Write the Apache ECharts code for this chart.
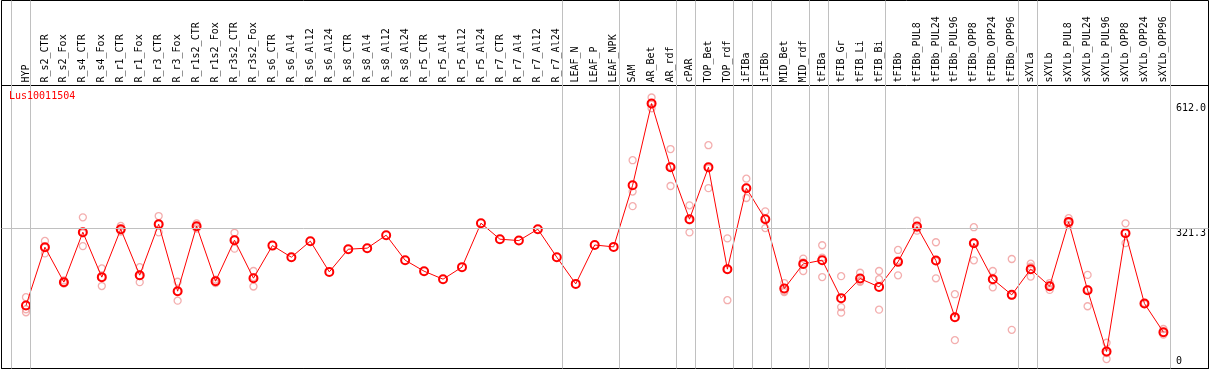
<!DOCTYPE html>
<html><head><meta charset="utf-8">
<script src="https://cdn.jsdelivr.net/npm/echarts@6/dist/echarts.min.js"></script>
<style>html,body{margin:0;padding:0;background:#fff}#c{width:1209px;height:370px}</style>
</head><body><div id="c"></div><script>
const title = 'Lus10011504';
const categories = ['HYP','R_s2_CTR','R_s2_Fox','R_s4_CTR','R_s4_Fox','R_r1_CTR','R_r1_Fox','R_r3_CTR','R_r3_Fox','R_r1s2_CTR','R_r1s2_Fox','R_r3s2_CTR','R_r3s2_Fox','R_s6_CTR','R_s6_Al4','R_s6_Al12','R_s6_Al24','R_s8_CTR','R_s8_Al4','R_s8_Al12','R_s8_Al24','R_r5_CTR','R_r5_Al4','R_r5_Al12','R_r5_Al24','R_r7_CTR','R_r7_Al4','R_r7_Al12','R_r7_Al24','LEAF_N','LEAF_P','LEAF_NPK','SAM','AR_Bet','AR_rdf','cPAR','TOP_Bet','TOP_rdf','iFIBa','iFIBb','MID_Bet','MID_rdf','tFIBa','tFIB_Gr','tFIB_Li','tFIB_Bi','tFIBb','tFIBb_PUL8','tFIBb_PUL24','tFIBb_PUL96','tFIBb_OPP8','tFIBb_OPP24','tFIBb_OPP96','sXYLa','sXYLb','sXYLb_PUL8','sXYLb_PUL24','sXYLb_PUL96','sXYLb_OPP8','sXYLb_OPP24','sXYLb_OPP96'];
const means = [141.5,277.5,196,312.4,207.7,319.4,212.3,331,175,326.4,198.3,293.8,205.3,281.2,254.2,291.5,220,272.8,275.2,305.4,247.2,221.6,203,231,333.4,296.1,292.9,319.4,254.2,192,282.6,278.2,421.8,612,463.7,342.7,463.7,226.3,414.8,342.7,181.1,238.6,247.2,158.8,204.4,185,243.3,325.5,246.3,114.5,286.8,203,166.5,226.3,186.7,336.4,177.4,34.5,310.1,146.2,79.6];
const N = null;
const rep1 = [161,292,200,347,228,327,231,350,197,333,202,311,222,N,N,N,N,N,N,N,N,N,N,N,N,N,N,N,N,N,N,N,480,626,506,375,515,298,437,361,194,251,282,210,218,222,271,339,289,168,324,222,250,239,194,345,213,55,333,148,87];
const rep2 = [133,277,196,310,208,318,210,331,175,325,199,296,208,N,N,N,N,N,N,N,N,N,N,N,N,N,N,N,N,N,N,N,407,610,466,340,461,226,416,344,176,242,253,138,199,203,247,322,245,114,289,202,165,232,188,335,179,31,310,146,79];
const rep3 = [126,263,193,280,187,314,196,312,153,321,194,274,186,N,N,N,N,N,N,N,N,N,N,N,N,N,N,N,N,N,N,N,373,601,420,312,415,154,392,322,173,222,208,125,197,132,212,316,205,61,247,184,85,209,178,329,140,17,287,145,74];
const yLabelValues = [321.3, 612.0];
const zeroLabel = [0];
const refLineValue = 321.3;
// separators drawn just after these category indices
const groupBreaks = [-1,0,28,31,34,35,37,38,39,41,42,45,52,53,60];

const yMin = -5, yMax = 654;
const sepOffset = 0.21;
const FONT = '"DejaVu Sans Mono", monospace';

const repData = [];
[rep1, rep2, rep3].forEach(arr => arr.forEach((v, i) => { if (v != null) repData.push([i, v]); }));

const chart = echarts.init(document.getElementById('c'), null, {renderer: 'canvas'});
chart.setOption({
  animation: false,
  title: {text: title, left: 9, top: 91, padding: 0,
    textStyle: {color: '#ff0000', fontSize: 10, fontWeight: 'normal', fontFamily: FONT}},
  grid: [
    {left: 1.5, top: 0.5, width: 1207, height: 368, show: true, borderColor: '#000', borderWidth: 1, backgroundColor: 'transparent'},
    {left: 1.5, top: 85.5, width: 1207, height: 283, show: true, borderColor: '#000', borderWidth: 1, backgroundColor: 'transparent'},
    {left: 7, top: 0.5, width: 1178, height: 368},
    {left: 16.5, top: 85.5, width: 1159, height: 283}
  ],
  xAxis: [
    {gridIndex: 0, type: 'value', show: false, min: 0, max: 1},
    {gridIndex: 1, type: 'value', show: false, min: 0, max: 1},
    {gridIndex: 2, type: 'value', show: false, min: -1, max: 61},
    {gridIndex: 3, type: 'category', data: categories, position: 'top',
      axisLine: {show: false}, axisTick: {show: false}, splitLine: {show: false},
      axisLabel: {interval: 0, rotate: 90, margin: 3, fontSize: 10, fontFamily: FONT, color: '#000'}}
  ],
  yAxis: [
    {gridIndex: 0, type: 'value', show: false, min: 0, max: 1},
    {gridIndex: 1, type: 'value', show: false, min: yMin, max: yMax},
    {gridIndex: 2, type: 'value', show: false, min: 0, max: 1},
    {gridIndex: 3, type: 'value', position: 'right', min: yMin, max: yMax,
      axisLine: {show: false}, axisTick: {show: false}, splitLine: {show: false},
      axisLabel: {customValues: yLabelValues, formatter: v => Number(v).toFixed(1), verticalAlign: 'top',
        margin: 3, fontSize: 10, fontFamily: FONT, color: '#000'}},
    {gridIndex: 3, type: 'value', position: 'right', min: yMin, max: yMax,
      axisLine: {show: false}, axisTick: {show: false}, splitLine: {show: false},
      axisLabel: {customValues: zeroLabel, formatter: v => String(Math.round(v)), verticalAlign: 'bottom',
        margin: 3, fontSize: 10, fontFamily: FONT, color: '#000'}}
  ],
  series: [
    {type: 'line', xAxisIndex: 2, yAxisIndex: 2, data: [[0, 0.5]], showSymbol: false, silent: true,
      lineStyle: {width: 0},
      markLine: {silent: true, symbol: 'none', animation: false, label: {show: false},
        lineStyle: {color: '#c0c0c0', width: 1, type: 'solid'},
        data: groupBreaks.map(k => ({xAxis: k + sepOffset}))}},
    {type: 'line', xAxisIndex: 1, yAxisIndex: 1, data: [[0.5, 300]], showSymbol: false, silent: true,
      lineStyle: {width: 0},
      markLine: {silent: true, symbol: 'none', animation: false, label: {show: false},
        lineStyle: {color: '#c0c0c0', width: 1, type: 'solid'},
        data: [{yAxis: refLineValue}]}},
    {type: 'scatter', xAxisIndex: 3, yAxisIndex: 3, data: repData, symbol: 'circle', symbolSize: 7,
      itemStyle: {color: 'transparent', borderColor: '#f09a9a', borderWidth: 1.3}},
    {type: 'line', xAxisIndex: 3, yAxisIndex: 3, data: means, symbol: 'circle', symbolSize: 8,
      showAllSymbol: true,
      itemStyle: {color: 'transparent', borderColor: '#ff0000', borderWidth: 2},
      lineStyle: {color: '#ff0000', width: 1}}
  ]
});
</script></body></html>
